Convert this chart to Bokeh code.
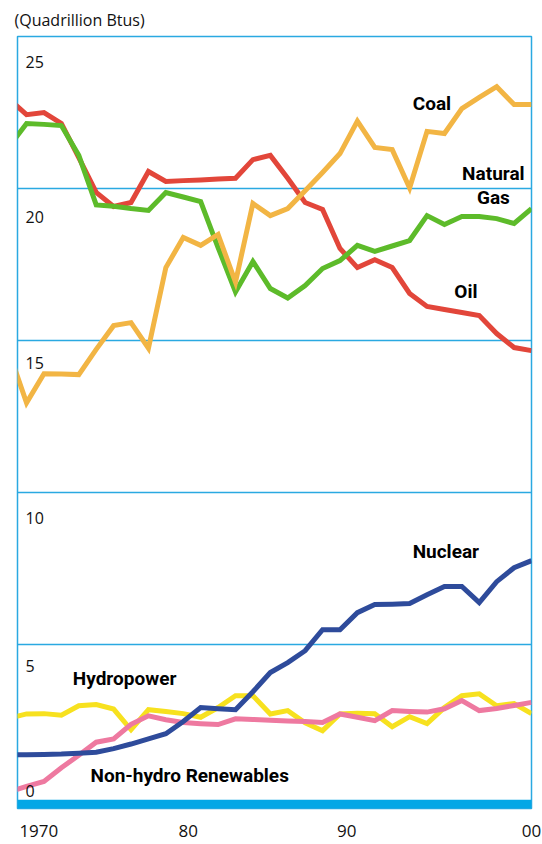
from bokeh.plotting import figure
from bokeh.models import Range1d, Grid, FixedTicker, Label, BoxAnnotation
from bokeh.embed import file_html
from bokeh.resources import INLINE

years = list(range(1970, 2001))

coal = [14.61, 12.95, 13.91, 13.90, 13.88, 14.71, 15.49, 15.59, 14.75, 17.40,
        18.39, 18.13, 18.49, 16.92, 19.51, 19.11, 19.34, 19.93, 20.53, 21.15,
        22.22, 21.35, 21.28, 20.02, 21.88, 21.81, 22.63, 23.00, 23.35, 22.76, 22.76]
natural_gas = [21.38, 22.14, 22.11, 22.07, 21.09, 19.46, 19.42, 19.34, 19.28, 19.87,
               19.72, 19.57, 18.06, 16.60, 17.60, 16.71, 16.40, 16.81, 17.37, 17.63,
               18.13, 17.93, 18.11, 18.29, 19.11, 18.82, 19.08, 19.08, 19.01, 18.85, 19.34]
oil = [22.94, 22.43, 22.50, 22.14, 21.02, 19.87, 19.41, 19.54, 20.56, 20.23,
       20.26, 20.28, 20.31, 20.34, 20.95, 21.09, 20.34, 19.54, 19.31, 18.03,
       17.40, 17.66, 17.40, 16.55, 16.12, 16.02, 15.92, 15.82, 15.23, 14.77, 14.67]
nuclear = [1.37, 1.38, 1.39, 1.40, 1.43, 1.46, 1.58, 1.73, 1.90, 2.07,
           2.47, 2.93, 2.89, 2.86, 3.45, 4.08, 4.41, 4.80, 5.49, 5.49,
           6.05, 6.32, 6.33, 6.35, 6.64, 6.91, 6.91, 6.38, 7.07, 7.53, 7.76]
hydropower = [2.58, 2.72, 2.73, 2.68, 2.99, 3.03, 2.88, 2.20, 2.86, 2.80,
              2.73, 2.61, 2.93, 3.32, 3.32, 2.72, 2.83, 2.43, 2.17, 2.72,
              2.74, 2.73, 2.30, 2.63, 2.40, 2.93, 3.32, 3.38, 2.99, 3.06, 2.73]
renewables = [0.15, 0.34, 0.50, 0.95, 1.36, 1.79, 1.90, 2.38, 2.66, 2.53,
              2.44, 2.40, 2.37, 2.56, 2.54, 2.51, 2.49, 2.47, 2.44, 2.72,
              2.61, 2.50, 2.83, 2.80, 2.78, 2.89, 3.16, 2.83, 2.90, 3.00, 3.10]

y_ticks = [25, 20, 15, 10, 5, 0]
y_tick_text = ["25", "20", "15", "10", "5", "0"]
x_ticks = [1970, 1980, 1990, 2000]
x_tick_text = ["1970", "80", "90", "00"]

BLUE = "#2aa9e1"
BAR = "#04a7e6"
TICK_FONT = "'Open Sans', 'Noto Sans', sans-serif"
BOLD_FONT = "Roboto, 'Liberation Sans', sans-serif"
PX_PER_YEAR = 514 / 29.52

p = figure(width=542, height=844, output_backend="svg", toolbar_location=None,
           x_axis_location="below", y_axis_location=None,
           x_range=Range1d(1970.48, 2000.0), y_range=Range1d(-0.39, 25.0),
           min_border_left=17, min_border_right=11, min_border_top=36, min_border_bottom=36,
           title="(Quadrillion Btus)")
p.grid.visible = False
p.background_fill_color = "white"
p.border_fill_color = "white"
p.outline_line_color = BLUE
p.outline_line_width = 1.5

p.title.text_font = TICK_FONT
p.title.text_font_size = "16px"
p.title.text_font_style = "normal"
p.title.text_color = "#111111"
p.title.align = "left"
p.title.offset = -3
p.title.standoff = 11

# x axis: labels only, nudged as in the original artwork
label_off = [29.7, 5, -10.6, 0]
label_pos = [t + o / PX_PER_YEAR for t, o in zip(x_ticks, label_off)]
ax = p.xaxis[0]
ax.ticker = FixedTicker(ticks=label_pos)
ax.major_label_overrides = {pos: txt for pos, txt in zip(label_pos, x_tick_text)}
ax.axis_line_color = None
ax.major_tick_line_color = None
ax.minor_tick_line_color = None
ax.major_tick_out = 0
ax.major_tick_in = 0
ax.major_label_standoff = 16
ax.major_label_text_font = TICK_FONT
ax.major_label_text_font_size = "17px"
ax.major_label_text_color = "#111111"

p.add_layout(Grid(dimension=1, ticker=FixedTicker(ticks=[5, 10, 15, 20]),
                  grid_line_color=BLUE, grid_line_width=1.5))
p.add_layout(BoxAnnotation(top=-0.1, fill_color=BAR, fill_alpha=1.0, line_alpha=0))

series = [
    (oil, "#e2463a"),
    (natural_gas, "#5dbb2a"),
    (coal, "#f2b544"),
    (hydropower, "#f7e11f"),
    (renewables, "#ee79a0"),
    (nuclear, "#2e4b9b"),
]
for vals, col in series:
    p.line(years, vals, line_color=col, line_width=5, line_join="miter")

# y tick labels inside the plot
y_off = [-25, -28, -22, -25, -21, 6]
for t, txt, off in zip(y_ticks, y_tick_text, y_off):
    p.add_layout(Label(x=1970.94, y=t, y_offset=off, text=txt, text_font=TICK_FONT,
                       text_font_size="16px", text_color="#111111",
                       text_align="left", text_baseline="alphabetic"))

# series labels
series_labels = [
    ("Coal", 1994.28, 22.57),
    ("Natural", 1997.81, 20.26),
    ("Gas", 1997.81, 19.49),
    ("Oil", 1996.23, 16.38),
    ("Nuclear", 1995.08, 7.82),
    ("Hydropower", 1976.63, 3.65),
    ("Non-hydro Renewables", 1980.37, 0.47),
]
for txt, x, y in series_labels:
    p.add_layout(Label(x=x, y=y, y_offset=7, text=txt, text_font=BOLD_FONT,
                       text_font_size="19px", text_font_style="bold", text_color="#000000",
                       text_align="center", text_baseline="alphabetic"))

open("out.html", "w").write(file_html(p, INLINE))
